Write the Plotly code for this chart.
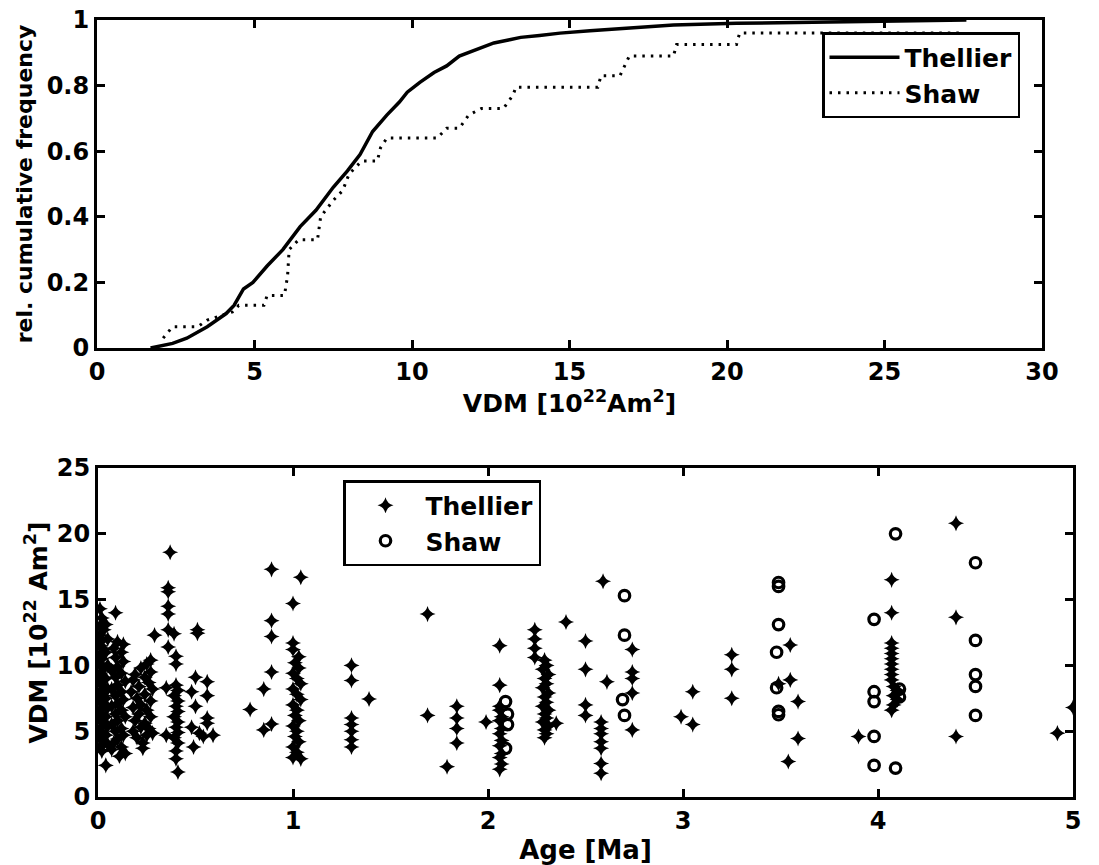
import plotly.graph_objects as go

# ---------------- data: top panel (cumulative frequency curves) ----------------
thellier_cdf_vdm = [1.7, 2.4, 2.85, 3.5, 4.1, 4.35, 4.65, 4.95, 5.4, 5.9, 6.45, 6.95, 7.5, 7.95,
                    8.35, 8.75, 9.2, 9.6, 9.85, 10.25, 10.7, 11.1, 11.5, 12.05, 12.6, 13.1, 13.45,
                    14.05, 14.7, 15.65, 16.9, 18.3, 20.3, 22.5, 25.0, 27.6]
thellier_cdf_freq = [0.0, 0.014, 0.03, 0.065, 0.105, 0.13, 0.18, 0.2, 0.25, 0.3, 0.37, 0.42, 0.49, 0.54,
                     0.59, 0.66, 0.71, 0.75, 0.78, 0.81, 0.84, 0.86, 0.89, 0.91, 0.93, 0.94, 0.947,
                     0.953, 0.96, 0.967, 0.975, 0.985, 0.99, 0.993, 0.996, 1.0]

shaw_cdf_vdm = [2.1, 2.4, 3.2, 3.5, 4.3, 4.5, 5.3, 5.4, 5.95, 6.05, 6.1, 6.4, 7.0, 7.1, 7.5, 7.8,
                8.0, 8.4, 8.9, 9.0, 9.2, 10.8, 11.1, 11.5, 11.8, 12.2, 12.9, 13.2, 13.3, 15.9,
                16.0, 16.6, 16.9, 18.3, 18.4, 20.3, 20.4, 27.5]
shaw_cdf_freq = [0.03, 0.065, 0.065, 0.085, 0.11, 0.13, 0.13, 0.16, 0.16, 0.22, 0.3, 0.33, 0.33, 0.4,
                 0.45, 0.48, 0.53, 0.57, 0.57, 0.61, 0.64, 0.64, 0.67, 0.67, 0.71, 0.73, 0.73, 0.77,
                 0.795, 0.795, 0.83, 0.83, 0.89, 0.89, 0.925, 0.925, 0.96, 0.96]

# ---------------- data: bottom panel (VDM vs age) ----------------
thellier_age = [
    # ~0.0 Ma
    0.01, 0.02, 0.01, 0.03, 0.01, 0.02, 0.01, 0.03, 0.01, 0.02, 0.01, 0.03, 0.01, 0.02, 0.01, 0.03,
    0.01, 0.02, 0.01, 0.03, 0.01, 0.02, 0.01, 0.03, 0.01, 0.02, 0.01, 0.03, 0.01, 0.02, 0.04,
    0.04, 0.05, 0.04, 0.05, 0.04, 0.05, 0.04, 0.05, 0.04, 0.05, 0.04, 0.05,
    # ~0.1 Ma
    0.09, 0.10, 0.13, 0.08, 0.12, 0.09, 0.13, 0.10, 0.07, 0.12, 0.09, 0.14, 0.10, 0.07, 0.12, 0.09,
    0.13, 0.10, 0.07, 0.12, 0.09, 0.14, 0.10, 0.07, 0.12, 0.09, 0.13, 0.10, 0.08, 0.12, 0.14, 0.11, 0.07,
    # ~0.2 Ma
    0.27, 0.25, 0.22, 0.27, 0.19, 0.24, 0.18, 0.26, 0.21, 0.28, 0.17, 0.24, 0.20, 0.27, 0.22, 0.18,
    0.25, 0.21, 0.27, 0.19, 0.24, 0.22, 0.28, 0.25, 0.20, 0.23, 0.23, 0.18, 0.26,
    # ~0.3-0.4 Ma
    0.29, 0.37, 0.36, 0.36, 0.36, 0.36, 0.36, 0.39, 0.36, 0.40, 0.40, 0.35, 0.40, 0.41, 0.39, 0.41,
    0.40, 0.41, 0.39, 0.41, 0.40, 0.35, 0.41, 0.39, 0.41, 0.40, 0.40, 0.41,
    # ~0.5 Ma
    0.51, 0.51, 0.50, 0.56, 0.48, 0.56, 0.50, 0.56, 0.56, 0.48, 0.52, 0.59, 0.54, 0.49,
    # ~0.8-0.9 Ma
    0.78, 0.85, 0.89, 0.85, 0.89, 0.89, 0.89, 0.89,
    # ~1.0 Ma
    1.04, 1.00, 1.00, 1.00, 1.03, 1.01, 1.03, 1.00, 1.02, 1.04, 1.00, 1.02, 1.04, 1.00, 1.02, 1.01,
    1.03, 1.00, 1.02, 1.01, 1.03, 1.00, 1.02, 1.00, 1.04,
    # ~1.3-1.4 Ma
    1.30, 1.30, 1.30, 1.30, 1.30, 1.30, 1.30, 1.39,
    # ~1.7-1.85 Ma
    1.69, 1.69, 1.84, 1.84, 1.84, 1.84, 1.79,
    # ~2.0-2.1 Ma
    1.99, 2.06, 2.06, 2.06, 2.06, 2.07, 2.06, 2.07, 2.06, 2.07, 2.06, 2.07, 2.06, 2.07, 2.06,
    # ~2.2-2.4 Ma
    2.24, 2.24, 2.24, 2.24, 2.29, 2.30, 2.28, 2.31, 2.29, 2.30, 2.28, 2.31, 2.29, 2.30, 2.28, 2.31,
    2.29, 2.30, 2.28, 2.31, 2.29, 2.30, 2.29, 2.35, 2.40,
    # ~2.5-2.6 Ma
    2.50, 2.50, 2.50, 2.50, 2.61, 2.58, 2.58, 2.58, 2.58, 2.58, 2.58, 2.58, 2.59,
    # ~2.75 Ma
    2.74, 2.74, 2.74, 2.74, 2.74,
    # ~3.0-3.25 Ma
    2.99, 3.05, 3.05, 3.25, 3.25, 3.25,
    # ~3.5 Ma
    3.55, 3.49, 3.55, 3.59, 3.59, 3.54,
    # ~3.9-4.1 Ma
    3.90, 4.07, 4.07, 4.07, 4.07, 4.07, 4.07, 4.07, 4.07, 4.07, 4.07, 4.08, 4.10, 4.08, 4.10, 4.08, 4.07,
    # ~4.4-5 Ma
    4.40, 4.40, 4.40, 4.92, 5.00,
]
thellier_vdm = [
    14.3, 13.6, 13.0, 12.7, 12.3, 11.9, 11.5, 11.2, 10.8, 10.5, 10.1, 9.8, 9.4, 9.1, 8.7, 8.4,
    8.0, 7.7, 7.3, 7.0, 6.6, 6.3, 5.9, 5.6, 5.2, 4.9, 4.5, 4.2, 3.8, 3.5, 2.4,
    13.1, 12.0, 11.0, 10.0, 9.0, 8.2, 7.5, 6.8, 6.1, 5.4, 4.7, 4.0,
    14.0, 11.8, 11.6, 11.3, 11.0, 10.6, 10.3, 9.9, 9.6, 9.4, 9.1, 8.8, 8.5, 8.2, 8.0, 7.7,
    7.4, 7.1, 6.9, 6.6, 6.3, 6.1, 5.8, 5.5, 5.2, 5.0, 4.7, 4.4, 4.1, 3.8, 3.3, 3.1, 3.6,
    10.4, 10.1, 9.8, 9.5, 9.3, 9.1, 8.9, 8.7, 8.4, 8.2, 8.0, 7.8, 7.5, 7.3, 7.0, 6.8,
    6.6, 6.3, 6.1, 5.8, 5.6, 5.3, 4.85, 4.7, 4.5, 3.7, 4.1, 5.0, 5.2,
    12.3, 18.6, 15.9, 15.6, 14.5, 13.9, 12.7, 12.4, 11.4, 10.7, 10.1, 8.3, 8.5, 8.1, 7.7, 7.3,
    6.9, 6.5, 6.1, 5.7, 5.3, 4.7, 4.9, 4.5, 4.1, 3.5, 2.9, 1.9,
    12.7, 12.45, 9.1, 8.75, 8.0, 7.7, 6.9, 6.0, 5.6, 5.3, 4.85, 4.7, 4.6, 3.8,
    6.65, 5.1, 5.55, 8.2, 9.5, 12.2, 13.4, 17.3,
    16.7, 14.7, 11.7, 11.2, 10.65, 10.2, 9.8, 9.4, 9.0, 8.6, 8.2, 7.8, 7.4, 7.0, 6.6, 6.2,
    5.8, 5.4, 5.0, 4.6, 4.2, 3.8, 3.4, 3.0, 2.9,
    10.0, 8.85, 6.0, 5.5, 5.0, 4.35, 3.8, 7.45,
    13.9, 6.2, 6.9, 6.0, 5.2, 4.1, 2.3,
    5.7, 11.5, 8.5, 6.9, 6.6, 6.1, 5.8, 5.2, 4.8, 4.3, 3.9, 3.3, 3.0, 2.5, 2.1,
    12.7, 12.0, 11.3, 10.6, 10.4, 10.0, 9.7, 9.3, 9.0, 8.6, 8.3, 7.9, 7.6, 7.2, 6.9, 6.6,
    6.3, 6.0, 5.7, 5.4, 5.1, 4.8, 4.5, 5.6, 13.3,
    11.85, 9.7, 7.0, 6.2, 8.75, 5.7, 5.2, 4.8, 4.2, 3.7, 2.55, 1.8, 16.4,
    11.2, 9.5, 9.0, 7.9, 5.1,
    6.1, 8.0, 5.5, 10.8, 9.7, 7.5,
    11.55, 8.6, 8.9, 7.25, 4.45, 2.7,
    4.6, 16.5, 14.0, 11.7, 11.3, 10.9, 10.5, 10.1, 9.7, 9.3, 8.9, 8.4, 8.1, 7.7, 7.4, 7.0, 6.6,
    20.8, 13.65, 4.6, 4.85, 6.8,
]

shaw_age = [2.09, 2.10, 2.10, 2.09, 2.70, 2.70, 2.69, 2.70, 3.49, 3.49, 3.49, 3.48, 3.48, 3.49, 3.49,
            3.98, 3.98, 3.98, 3.98, 3.98, 4.09, 4.09, 4.11, 4.11, 4.50, 4.50, 4.50, 4.50, 4.50]
shaw_vdm = [7.25, 6.3, 5.5, 3.7, 15.3, 12.3, 7.4, 6.2, 16.0, 16.3, 13.1, 11.0, 8.3, 6.25, 6.5,
            13.5, 8.0, 7.25, 4.6, 2.4, 20.0, 2.2, 8.2, 7.6, 17.8, 11.9, 9.3, 8.4, 6.2]

top_yticks = [0, 0.2, 0.4, 0.6, 0.8, 1]
top_xticks = [0, 5, 10, 15, 20, 25, 30]
bot_xticks = [0, 1, 2, 3, 4, 5]
bot_yticks = [0, 5, 10, 15, 20, 25]

# ---------------- figure ----------------
FONT = "DejaVu Sans"
W, H = 1099, 865

fig = go.Figure()
fig.add_trace(go.Scatter(x=thellier_cdf_vdm, y=thellier_cdf_freq, mode="lines", name="Thellier",
                         line=dict(color="black", width=3.5), xaxis="x", yaxis="y", legend="legend"))
fig.add_trace(go.Scatter(x=shaw_cdf_vdm, y=shaw_cdf_freq, mode="lines", name="Shaw",
                         line=dict(color="black", width=3, dash="2.5px,6px"),
                         xaxis="x", yaxis="y", legend="legend"))
fig.add_trace(go.Scatter(x=thellier_age, y=thellier_vdm, mode="markers", name="Thellier",
                         marker=dict(symbol="star-diamond", size=11.5, color="black"),
                         xaxis="x2", yaxis="y2", legend="legend2"))
fig.add_trace(go.Scatter(x=shaw_age, y=shaw_vdm, mode="markers", name="Shaw",
                         marker=dict(symbol="circle-open", size=10.5, color="black",
                                     line=dict(width=3.2, color="black")),
                         xaxis="x2", yaxis="y2", legend="legend2"))

tickfont = dict(family=FONT, size=24, color="black", weight="bold")
common = dict(showline=True, linecolor="black", linewidth=3, mirror="ticks", ticks="inside",
              ticklen=8, tickwidth=2.5, tickcolor="black", showgrid=False, zeroline=False,
              automargin=False, tickfont=tickfont)


def title(text, size):
    return dict(text=text, font=dict(family=FONT, size=size, color="black", weight="bold"))


legend_font = dict(family=FONT, size=25, color="black", weight="bold")

fig.update_layout(
    width=W, height=H, margin=dict(l=0, r=0, t=0, b=0, autoexpand=False),
    paper_bgcolor="white", plot_bgcolor="white",
    xaxis=dict(domain=[97 / W, 1042 / W], range=[0, 30], tickvals=top_xticks, anchor="y",
               title=dict(**title("VDM [10<sup>22</sup>Am<sup>2</sup>]", 25), standoff=10), **common),
    yaxis=dict(domain=[1 - 348 / H, 1 - 20 / H], range=[0, 1], tickvals=top_yticks, anchor="x",
               title=dict(**title("rel. cumulative frequency", 22), standoff=8), **common),
    xaxis2=dict(domain=[98 / W, 1073 / W], range=[0, 5], tickvals=bot_xticks, anchor="y2",
                title=dict(**title("Age [Ma]", 26), standoff=8), **common),
    yaxis2=dict(domain=[1 - 797 / H, 1 - 468 / H], range=[0, 25], tickvals=bot_yticks, anchor="x2",
                title=dict(**title("VDM [10<sup>22</sup> Am<sup>2</sup>]", 25), standoff=3), **common),
    legend=dict(x=822 / W, y=1 - 32 / H, xanchor="left", yanchor="top", bgcolor="white",
                bordercolor="black", borderwidth=2.5, itemwidth=70, tracegroupgap=0,
                font=legend_font),
    legend2=dict(x=343 / W, y=1 - 480 / H, xanchor="left", yanchor="top", bgcolor="white",
                 bordercolor="black", borderwidth=2.5, itemwidth=70, tracegroupgap=0,
                 font=legend_font),
)

fig.write_html("out.html",
               post_script="document.body.style.margin='0';document.body.style.overflow='hidden';")
